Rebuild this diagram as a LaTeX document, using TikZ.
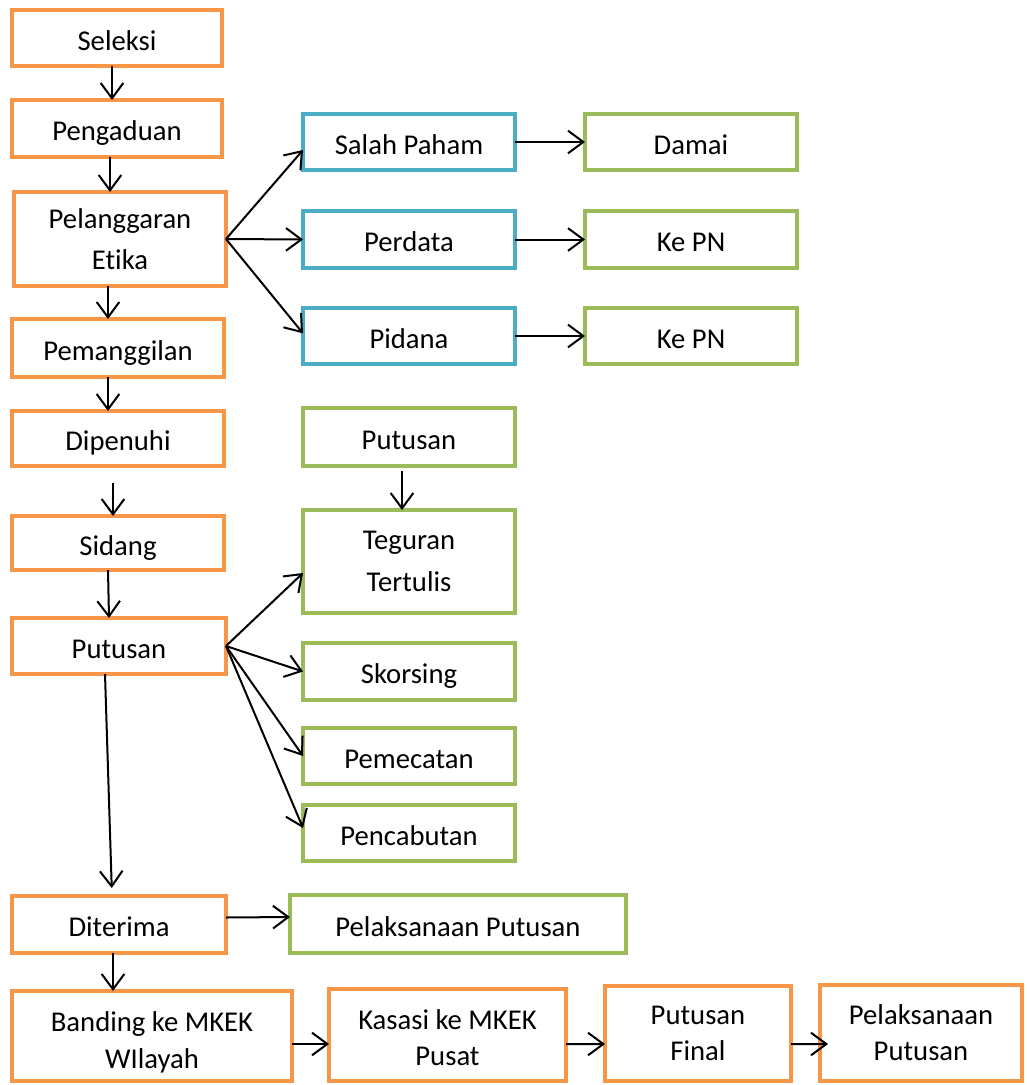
\documentclass[tikz,border=0pt]{standalone}
\usepackage{fontspec}
\setmainfont[Ligatures={TeX,NoCommon}]{Carlito}
\usetikzlibrary{arrows.meta,calc}
\definecolor{orgc}{HTML}{F79646}
\definecolor{bluc}{HTML}{4BACC6}
\definecolor{grnc}{HTML}{9BBB59}
\newcommand\lowr[2]{\raisebox{-#1}[\height][\depth]{#2}}
\begin{document}
\begin{tikzpicture}[x=0.75pt,y=-0.75pt,
  box/.style={draw, line width=3pt, fill=white, align=center, inner sep=0pt, outer sep=0pt,
    font=\fontsize{21.5pt}{27pt}\selectfont},
  one/.style={text height=19pt, text depth=1pt},
  tall/.style={font=\fontsize{21.5pt}{31pt}\selectfont},
  ob/.style={box, draw=orgc},
  bb/.style={box, draw=bluc},
  gb/.style={box, draw=grnc},
  sz/.style 2 args={minimum width=#1*0.75pt, minimum height=#2*0.75pt},
  arr/.style={line width=1.5pt, -{Straight Barb[length=11.5pt,width=17pt,line width=1.5pt]}}]
\fill[white] (0,0) rectangle (1027,1085);
\useasboundingbox (0,0) rectangle (1027,1085);
% left column
\node[ob, one, sz={210}{56}] (sel) at (117,38) {Seleksi};
\node[ob, one, sz={210}{57}] (peng) at (117,128.5) {Pengaduan};
\node[ob, tall, sz={212}{94}] (pel) at (120,239) {Pelanggaran\\Etika};
\node[ob, one, sz={212}{58}] (pman) at (118,348) {Pemanggilan};
\node[ob, one, sz={212}{55}] (dip) at (118,438.5) {Dipenuhi};
\node[ob, one, sz={212}{54}] (sid) at (118,543) {Sidang};
\node[ob, one, sz={214}{56}] (put) at (119,646) {Putusan};
\node[ob, one, sz={214}{57}] (dit) at (119,924.5) {Diterima};
% bottom row
\node[ob, sz={280}{90}, font=\fontsize{21.5pt}{28pt}\selectfont] (ban) at (152,1036) {\lowr{5pt}{Banding ke MKEK}\\\lowr{5pt}{WIlayah}};
\node[ob, sz={237}{92}] (kas) at (447.5,1035) {\lowr{2pt}{Kasasi ke MKEK}\\\lowr{2pt}{Pusat}};
\node[ob, sz={186}{95}] (fin) at (698,1033.5) {Putusan\\Final};
\node[ob, sz={202}{96}] (pp2) at (921,1033) {Pelaksanaan\\Putusan};
% blue / green top
\node[bb, one, sz={212}{56}] (salah) at (409,142) {Salah Paham};
\node[gb, one, sz={212}{56}] (damai) at (691,142) {Damai};
\node[bb, one, sz={212}{57}] (perd) at (409,239.5) {Perdata};
\node[gb, one, sz={212}{57}] (kepn1) at (691,239.5) {Ke PN};
\node[bb, one, sz={212}{56}] (pid) at (409,336) {Pidana};
\node[gb, one, sz={212}{56}] (kepn2) at (691,336) {Ke PN};
% green middle
\node[gb, one, sz={212}{58}] (gput) at (409,437) {Putusan};
\node[gb, tall, sz={212}{103}] (teg) at (409,561.5) {Teguran\\Tertulis};
\node[gb, one, sz={212}{57}] (sko) at (409,671.5) {Skorsing};
\node[gb, one, sz={212}{56}] (pem) at (409,756) {Pemecatan};
\node[gb, one, sz={212}{56}] (pen) at (409,833) {Pencabutan};
\node[gb, one, sz={336}{58}] (pel2) at (458,924) {Pelaksanaan Putusan};
% arrows left column
\draw[arr] ([xshift=-3.75pt]sel.south) -- ([xshift=-3.75pt]peng.north);
\draw[arr] ([xshift=-5.25pt]peng.south) -- ([xshift=-7.5pt]pel.north);
\draw[arr] ([xshift=-9pt]pel.south) -- ([xshift=-7.5pt]pman.north);
\draw[arr] ([xshift=-7.5pt]pman.south) -- ([xshift=-7.5pt]dip.north);
\draw[arr] ([xshift=-3.75pt,yshift=-12.75pt]dip.south) -- ([xshift=-3.75pt]sid.north);
\draw[arr] ([xshift=-7.5pt]sid.south) -- ([xshift=-7.5pt]put.north);
\draw[arr, shorten >=6pt] ([xshift=-10.5pt]put.south) -- ([xshift=-5.25pt]dit.north);
\draw[arr] ([xshift=-4.5pt]dit.south) -- ([xshift=-29.25pt]ban.north);
\draw[arr] ([yshift=5.25pt]dit.east) -- ([yshift=5.25pt]pel2.west);
% bottom row arrows
\draw[arr] ([yshift=-6pt]ban.east) -- ([yshift=-6.75pt]kas.west);
\draw[arr] ([yshift=-6.75pt]kas.east) -- ([yshift=-7.9pt]fin.west);
\draw[arr] ([yshift=-7.9pt]fin.east) -- ([xshift=6pt,yshift=-8.25pt]pp2.west);
% from Pelanggaran
\draw[arr] (pel.east) -- ([yshift=-6pt]salah.west);
\draw[arr] (pel.east) -- (perd.west);
\draw[arr] (pel.east) -- ([yshift=2pt]pid.west);
\draw[arr] (salah.east) -- (damai.west);
\draw[arr] (perd.east) -- (kepn1.west);
\draw[arr] (pid.east) -- (kepn2.west);
% green putusan
\draw[arr] ([xshift=-5.25pt,yshift=-4pt]gput.south) -- ([xshift=-5.25pt]teg.north);
% from orange Putusan
\draw[arr] (put.east) -- ([yshift=-8.6pt]teg.west);
\draw[arr] (put.east) -- (sko.west);
\draw[arr] (put.east) -- (pem.west);
\draw[arr] (put.east) -- ([yshift=3.75pt]pen.west);
\end{tikzpicture}
\end{document}
